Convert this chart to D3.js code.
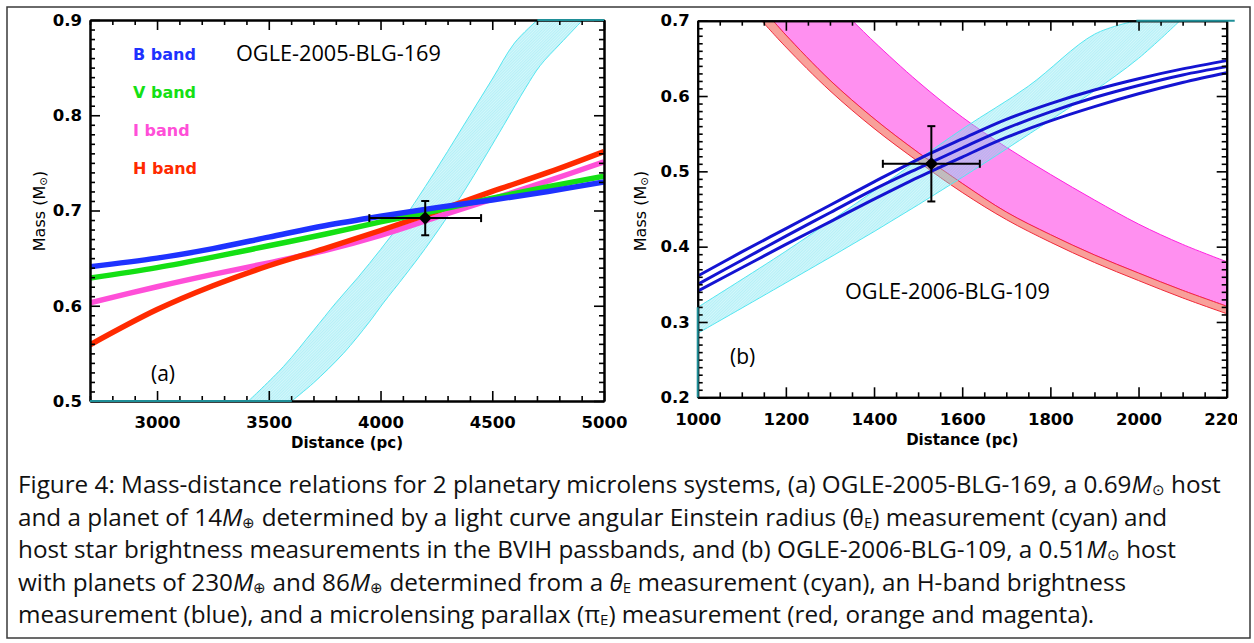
<!DOCTYPE html>
<html>
<head>
<meta charset="utf-8">
<script src="https://cdn.jsdelivr.net/npm/d3@7"></script>
<style>
  body { margin: 0; background: #fff; }
  svg { display: block; }
</style>
</head>
<body>
<svg id="chart" width="1254" height="643"></svg>
<script>
'use strict';

// ---- panel (a) : OGLE-2005-BLG-169 ----
var distA = [2700, 3000, 3250, 3500, 3750, 4000, 4250, 4500, 4750, 5000];
var massB = [0.641, 0.650, 0.660, 0.672, 0.684, 0.694, 0.703, 0.711, 0.720, 0.730];
var massV = [0.629, 0.640, 0.651, 0.663, 0.675, 0.688, 0.700, 0.713, 0.725, 0.736];
var massI = [0.603, 0.620, 0.633, 0.645, 0.658, 0.674, 0.693, 0.712, 0.731, 0.751];
var massH = [0.559, 0.596, 0.621, 0.642, 0.660, 0.679, 0.699, 0.720, 0.740, 0.762];
var bandNames = ['B band', 'V band', 'I band', 'H band'];

// theta_E band (cyan), left and right edges
var thetaALeftD = [3409, 3565, 3700, 3800, 3900, 4000, 4100, 4200, 4300, 4400, 4500, 4600, 4702];
var thetaALeftM = [0.500, 0.536, 0.574, 0.603, 0.630, 0.659, 0.690, 0.725, 0.762, 0.800, 0.838, 0.876, 0.900];
var thetaARightD = [3603, 3700, 3834, 3950, 4013, 4110, 4200, 4311, 4400, 4550, 4650, 4714, 4804, 4905];
var thetaARightM = [0.500, 0.519, 0.550, 0.583, 0.603, 0.632, 0.660, 0.6975, 0.730, 0.789, 0.829, 0.852, 0.875, 0.900];

// host measurement: distance, mass, distance error, mass error
var hostA = [4200, 0.692, 250, 0.018];

var xTicksA = [3000, 3500, 4000, 4500, 5000];
var yTicksA = [0.5, 0.6, 0.7, 0.8, 0.9];

// ---- panel (b) : OGLE-2006-BLG-109 ----
var distB = [1000, 1100, 1200, 1300, 1400, 1500, 1600, 1700, 1800, 1900, 2000, 2100, 2200];
var massHUpper = [0.361, 0.393, 0.424, 0.455, 0.486, 0.516, 0.543, 0.569, 0.590, 0.608, 0.623, 0.636, 0.647];
var massHMid   = [0.350, 0.382, 0.414, 0.445, 0.476, 0.504, 0.531, 0.557, 0.579, 0.598, 0.614, 0.628, 0.639];
var massHLower = [0.341, 0.372, 0.403, 0.433, 0.463, 0.492, 0.519, 0.545, 0.567, 0.586, 0.603, 0.618, 0.631];

var thetaBUpperD = [1000, 1200, 1400, 1600, 1750, 1900, 1995];
var thetaBUpperM = [0.3195, 0.394, 0.474, 0.556, 0.613, 0.682, 0.700];
var thetaBLowerD = [1000, 1200, 1400, 1600, 1800, 1900, 2000, 2094];
var thetaBLowerM = [0.285, 0.352, 0.420, 0.492, 0.568, 0.607, 0.650, 0.700];

// parallax bands
var piMagentaD = [1351, 1400, 1500, 1600, 1700, 1800, 1900, 2000, 2100, 2200];
var piMagentaM = [0.700, 0.672, 0.619, 0.572, 0.532, 0.496, 0.462, 0.430, 0.403, 0.380];
var piMidD = [1171, 1200, 1300, 1400, 1500, 1600, 1700, 1800, 1900, 2000, 2100, 2200];
var piMidM = [0.700, 0.681, 0.621, 0.570, 0.525, 0.484, 0.446, 0.416, 0.389, 0.365, 0.342, 0.321];
var piRedD = [1145, 1200, 1300, 1400, 1500, 1600, 1700, 1800, 1900, 2000, 2100, 2200];
var piRedM = [0.700, 0.665, 0.607, 0.557, 0.513, 0.472, 0.436, 0.406, 0.379, 0.355, 0.332, 0.311];

var hostB = [1530, 0.51, 110, 0.05];

var xTicksB = [1000, 1200, 1400, 1600, 1800, 2000, 2200];
var yTicksB = [0.2, 0.3, 0.4, 0.5, 0.6, 0.7];

var captionLines = [
  [['Figure 4: Mass-distance relations for 2 planetary microlens systems, (a) OGLE-2005-BLG-169, a 0.69'], ['M', 'i'], ['\u2299', 's'], [' host']],
  [['and a planet of 14'], ['M', 'i'], ['\u2295', 's'], [' determined by a light curve angular Einstein radius (\u03b8'], ['E', 's'], [') measurement (cyan) and']],
  [['host star brightness measurements in the BVIH passbands, and (b) OGLE-2006-BLG-109, a 0.51'], ['M', 'i'], ['\u2299', 's'], [' host']],
  [['with planets of 230'], ['M', 'i'], ['\u2295', 's'], [' and 86'], ['M', 'i'], ['\u2295', 's'], [' determined from a '], ['\u03b8', 'i'], ['E', 's'], [' measurement (cyan), an H-band brightness']],
  [['measurement (blue), and a microlensing parallax (\u03c0'], ['E', 's'], [') measurement (red, orange and magenta).']]
];

var AXIS_FONT = '"DejaVu Sans", Verdana, sans-serif';
var TEXT_FONT = '"Open Sans", "Noto Sans", sans-serif';

var svg = d3.select('#chart');
var defs = svg.append('defs');

// fine hatch for the theta_E bands
var pat = defs.append('pattern')
    .attr('id', 'cyanHatch')
    .attr('patternUnits', 'userSpaceOnUse')
    .attr('width', 2).attr('height', 2)
    .attr('patternTransform', 'rotate(45)');
pat.append('rect').attr('width', 2).attr('height', 2).attr('fill', 'rgba(130,232,242,0.34)');
pat.append('rect').attr('width', 0.7).attr('height', 2).attr('fill', 'rgba(70,220,235,0.3)');

// outer frame
svg.append('rect')
    .attr('x', 7).attr('y', 7).attr('width', 1243).attr('height', 631)
    .attr('fill', 'none').attr('stroke', '#3a3a3a').attr('stroke-width', 1.5);

var xA = d3.scaleLinear().domain([2700, 5000]).range([90, 604]);
var yA = d3.scaleLinear().domain([0.5, 0.9]).range([401, 20]);
var xB = d3.scaleLinear().domain([1000, 2200]).range([697.7, 1226.7]);
var yB = d3.scaleLinear().domain([0.2, 0.7]).range([397.3, 20.7]);

function clipFor(id, x, y) {
    defs.append('clipPath').attr('id', id).append('rect')
        .attr('x', x.range()[0]).attr('y', y.range()[1])
        .attr('width', x.range()[1] - x.range()[0])
        .attr('height', y.range()[0] - y.range()[1]);
    return 'url(#' + id + ')';
}

function zip(ds, ms) {
    return ds.map(function(d, i) { return [d, ms[i]]; });
}

// closed polygon from two edges (second edge walked backwards)
function bandPath(x, y, edge1, edge2) {
    var line = d3.line()
        .x(function(p) { return x(p[0]); })
        .y(function(p) { return y(p[1]); })
        .curve(d3.curveCatmullRom.alpha(0.5));
    var a = line(edge1);
    var b = line(edge2.slice().reverse());
    return a + 'L' + b.slice(1) + 'Z';
}

function isIn(list, v) {
    return list.some(function(t) { return Math.abs(t - v) < 1e-9; });
}

function drawAxes(g, x, y, o) {
    var xd = x.domain(), yd = y.domain();
    var xMinor = d3.range(xd[0], xd[1] + 1e-9, o.xStep).filter(function(v) { return !isIn(o.xTicks, v); });
    var yMinor = d3.range(0, Math.round((yd[1] - yd[0]) / o.yStep) + 1)
        .map(function(i) { return +(yd[0] + i * o.yStep).toFixed(4); })
        .filter(function(v) { return !isIn(o.yTicks, v); });
    var bottom = y.range()[0], top = y.range()[1], left = x.range()[0], right = x.range()[1];

    var defsAxes = [
        [d3.axisBottom(x).tickValues(o.xTicks).tickSize(-10).tickPadding(o.xPad).tickFormat(o.xFmt), 'translate(0,' + bottom + ')'],
        [d3.axisBottom(x).tickValues(xMinor).tickSize(-5).tickFormat(''), 'translate(0,' + bottom + ')'],
        [d3.axisTop(x).tickValues(o.xTicks).tickSize(-10).tickFormat(''), 'translate(0,' + top + ')'],
        [d3.axisTop(x).tickValues(xMinor).tickSize(-5).tickFormat(''), 'translate(0,' + top + ')'],
        [d3.axisLeft(y).tickValues(o.yTicks).tickSize(-10).tickPadding(8).tickFormat(d3.format('.1f')), 'translate(' + left + ',0)'],
        [d3.axisLeft(y).tickValues(yMinor).tickSize(-5).tickFormat(''), 'translate(' + left + ',0)'],
        [d3.axisRight(y).tickValues(o.yTicks).tickSize(-10).tickFormat(''), 'translate(' + right + ',0)'],
        [d3.axisRight(y).tickValues(yMinor).tickSize(-5).tickFormat(''), 'translate(' + right + ',0)']
    ];
    defsAxes.forEach(function(a) {
        var ax = g.append('g').attr('transform', a[1]).call(a[0].tickSizeOuter(0));
        ax.select('.domain').attr('stroke', '#000').attr('stroke-width', 2);
        ax.selectAll('.tick line').attr('stroke', '#000').attr('stroke-width', 1.6);
        ax.selectAll('.tick text')
            .attr('font-family', AXIS_FONT)
            .attr('font-weight', 'bold')
            .attr('font-size', 16.5)
            .attr('fill', '#000');
    });
}

function errorBar(g, x, y, p) {
    var cx = x(p[0]), cy = y(p[1]);
    var xl = x(p[0] - p[2]), xr = x(p[0] + p[2]);
    var yt = y(p[1] + p[3]), yb = y(p[1] - p[3]);
    var eb = g.append('g').attr('stroke', '#000').attr('stroke-width', 2);
    eb.append('line').attr('x1', xl).attr('x2', xr).attr('y1', cy).attr('y2', cy);
    eb.append('line').attr('x1', cx).attr('x2', cx).attr('y1', yt).attr('y2', yb);
    eb.append('line').attr('x1', xl).attr('x2', xl).attr('y1', cy - 4).attr('y2', cy + 4);
    eb.append('line').attr('x1', xr).attr('x2', xr).attr('y1', cy - 4).attr('y2', cy + 4);
    eb.append('line').attr('x1', cx - 4).attr('x2', cx + 4).attr('y1', yt).attr('y2', yt);
    eb.append('line').attr('x1', cx - 4).attr('x2', cx + 4).attr('y1', yb).attr('y2', yb);
    g.append('path')
        .attr('d', d3.symbol().type(d3.symbolSquare).size(85)())
        .attr('transform', 'translate(' + cx + ',' + cy + ') rotate(45)')
        .attr('fill', '#000');
}

function axisTitles(g, x, y, xTitleY, yTitleX) {
    g.append('text')
        .attr('x', (x.range()[0] + x.range()[1]) / 2).attr('y', xTitleY)
        .attr('text-anchor', 'middle')
        .attr('font-family', AXIS_FONT).attr('font-weight', 'bold').attr('font-size', 15)
        .text('Distance (pc)');
    var t = g.append('text')
        .attr('transform', 'translate(' + yTitleX + ',211) rotate(-90)')
        .attr('text-anchor', 'middle')
        .attr('font-family', AXIS_FONT).attr('font-size', 16);
    t.append('tspan').text('Mass (M');
    t.append('tspan').attr('font-size', '0.65em').attr('baseline-shift', '-0.15em').text('\u2299');
    t.append('tspan').text(')');
}

function tealEdge(g, x1, y1, x2, y2) {
    g.append('line').attr('x1', x1).attr('y1', y1).attr('x2', x2).attr('y2', y2)
        .attr('stroke', '#1f8f98').attr('stroke-width', 2);
}

function fitText(sel, target) {
    var fs = parseFloat(sel.attr('font-size'));
    var w = sel.node().getComputedTextLength();
    sel.attr('font-size', fs * target / w);
}

// ================= panel (a) =================
var gA = svg.append('g');
var plotA = gA.append('g').attr('clip-path', clipFor('clipA', xA, yA));

plotA.append('path')
    .attr('d', bandPath(xA, yA, zip(thetaALeftD, thetaALeftM), zip(thetaARightD, thetaARightM)))
    .attr('fill', 'url(#cyanHatch)')
    .attr('stroke', '#55e6f0').attr('stroke-width', 1);

var bandColors = {'B band': '#1e32ff', 'V band': '#14e014', 'I band': '#ff4fd8', 'H band': '#ff2a00'};
var bandSeries = {'B band': massB, 'V band': massV, 'I band': massI, 'H band': massH};
var lineA = d3.line()
    .x(function(p) { return xA(p[0]); })
    .y(function(p) { return yA(p[1]); })
    .curve(d3.curveCatmullRom.alpha(0.5));
['I band', 'H band', 'V band', 'B band'].forEach(function(name) {
    plotA.append('path')
        .attr('d', lineA(zip(distA, bandSeries[name])))
        .attr('fill', 'none')
        .attr('stroke', bandColors[name])
        .attr('stroke-width', 5.5);
});

errorBar(gA, xA, yA, hostA);
drawAxes(gA, xA, yA, {xTicks: xTicksA, yTicks: yTicksA, xStep: 100, yStep: 0.01, xPad: 15, xFmt: d3.format('d')});
tealEdge(gA, xA(2700), yA(0.5), xA(thetaARightD[0]), yA(0.5));
tealEdge(gA, xA(thetaALeftD[thetaALeftD.length - 1]), yA(0.9), xA(5000), yA(0.9));
axisTitles(gA, xA, yA, 448, 45);

gA.selectAll('.legend')
    .data(bandNames)
    .enter().append('text')
    .attr('x', 133)
    .attr('y', function(d, i) { return 60 + i * 38; })
    .attr('font-family', AXIS_FONT).attr('font-weight', 'bold').attr('font-size', 16)
    .attr('fill', function(d) { return bandColors[d]; })
    .text(function(d) { return d; });

var titleA = gA.append('text').attr('x', 236).attr('y', 61)
    .attr('font-family', TEXT_FONT).attr('font-size', 21).text('OGLE-2005-BLG-169');
fitText(titleA, 205);
gA.append('text').attr('x', 151).attr('y', 381)
    .attr('font-family', TEXT_FONT).attr('font-size', 21).text('(a)');

// ================= panel (b) =================
defs.append('clipPath').attr('id', 'cropB').append('rect')
    .attr('x', 620).attr('y', 0).attr('width', 617).attr('height', 470);
var gB = svg.append('g').attr('clip-path', 'url(#cropB)');
var plotB = gB.append('g').attr('clip-path', clipFor('clipB', xB, yB));

plotB.append('path')
    .attr('d', bandPath(xB, yB, zip(piMagentaD, piMagentaM), zip(piMidD, piMidM)))
    .attr('fill', '#ff90f0')
    .attr('stroke', '#ff20e0').attr('stroke-width', 1);
plotB.append('path')
    .attr('d', bandPath(xB, yB, zip(piMidD, piMidM), zip(piRedD, piRedM)))
    .attr('fill', '#f8a09a')
    .attr('stroke', '#f02a3a').attr('stroke-width', 1);
plotB.append('path')
    .attr('d', bandPath(xB, yB, zip(thetaBUpperD, thetaBUpperM), zip(thetaBLowerD, thetaBLowerM)))
    .attr('fill', 'url(#cyanHatch)')
    .attr('stroke', '#55e6f0').attr('stroke-width', 1);

var lineB = d3.line()
    .x(function(p) { return xB(p[0]); })
    .y(function(p) { return yB(p[1]); })
    .curve(d3.curveCatmullRom.alpha(0.5));
[massHUpper, massHMid, massHLower].forEach(function(series) {
    plotB.append('path')
        .attr('d', lineB(zip(distB, series)))
        .attr('fill', 'none')
        .attr('stroke', '#1414d2')
        .attr('stroke-width', 3);
});

errorBar(gB, xB, yB, hostB);
drawAxes(gB, xB, yB, {xTicks: xTicksB, yTicks: yTicksB, xStep: 50, yStep: 0.01, xPad: 16, xFmt: d3.format('d')});
tealEdge(gB, xB(1000), yB(0.2), xB(1000), yB(thetaBUpperM[0]));
tealEdge(gB, xB(thetaBUpperD[thetaBUpperD.length - 1]), yB(0.7), xB(2200) + 8, yB(0.7));
axisTitles(gB, xB, yB, 445, 646);

var titleB = gB.append('text').attr('x', 845).attr('y', 299)
    .attr('font-family', TEXT_FONT).attr('font-size', 21).text('OGLE-2006-BLG-109');
fitText(titleB, 205);
gB.append('text').attr('x', 730).attr('y', 364)
    .attr('font-family', TEXT_FONT).attr('font-size', 21).text('(b)');

// ================= caption =================
var capNodes = captionLines.map(function(segs, i) {
    var t = svg.append('text')
        .attr('x', 18).attr('y', 493 + i * 32.5)
        .attr('font-family', TEXT_FONT).attr('font-size', 22).attr('fill', '#111');
    segs.forEach(function(s) {
        var ts = t.append('tspan').text(s[0]);
        if (s[1] === 'i') ts.attr('font-style', 'italic');
        if (s[1] === 's') ts.attr('font-size', '0.62em').attr('baseline-shift', '-0.12em');
    });
    return t;
});
fitText(capNodes[0], 1204);
var capSize = capNodes[0].attr('font-size');
capNodes.forEach(function(t) { t.attr('font-size', capSize); });
</script>
</body>
</html>
